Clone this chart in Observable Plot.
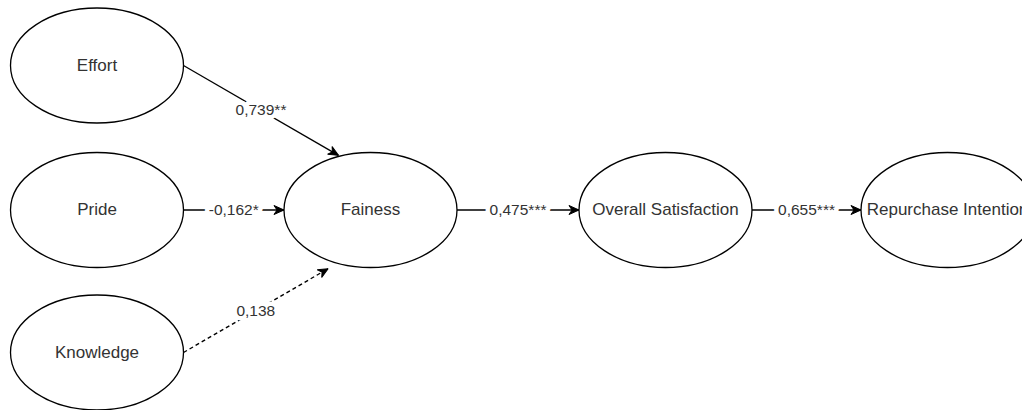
<!DOCTYPE html>
<html>
<head>
<meta charset="utf-8">
<script src="https://cdn.jsdelivr.net/npm/d3@7"></script>
<script src="https://cdn.jsdelivr.net/npm/@observablehq/plot@0.6"></script>
<style>
  html, body { margin: 0; padding: 0; background: #fff; overflow: hidden; }
</style>
</head>
<body>
<div id="chart"></div>
<script>
// ---- data (layout units of the diagram) ----
const nodeNames = ["Effort", "Pride", "Knowledge", "Fainess", "Overall Satisfaction", "Repurchase Intention"];
const nodeX = [96.5, 96.5, 96.5, 370, 665, 947];
const nodeY = [65, 209.5, 352, 209.5, 209.5, 209.5];

const edgeFrom = ["Effort", "Pride", "Knowledge", "Fainess", "Overall Satisfaction"];
const edgeTo = ["Fainess", "Fainess", "Fainess", "Overall Satisfaction", "Repurchase Intention"];
const edgeCoef = ["0,739**", "-0,162*", "0,138", "0,475***", "0,655***"];
const edgeSignificant = [true, true, false, true, true];
// where each path enters its target, relative to the target centre (in radii)
const edgePortX = [-0.37, -1, -0.49, -1, -1];
const edgePortY = [-0.95, 0, 1.02, 0, 0];

const RX = 86.5, RY = 57.5;

const nodes = nodeNames.map((name, i) => ({name, x: nodeX[i], y: nodeY[i]}));
const byName = new Map(nodes.map(n => [n.name, n]));
const edges = edgeFrom.map((f, i) => {
  const s = byName.get(f), t = byName.get(edgeTo[i]);
  const x1 = s.x + RX, y1 = s.y;
  const x2 = t.x + edgePortX[i] * RX, y2 = t.y + edgePortY[i] * RY;
  return {x1, y1, x2, y2, mx: (x1 + x2) / 2, my: (y1 + y2) / 2,
          label: edgeCoef[i], significant: edgeSignificant[i]};
});

// ellipse symbol for the latent variables
const ellipseSymbol = {
  draw(context, size) {
    const rx = Math.sqrt(size / Math.PI);
    const ry = rx * (RY / RX);
    const k = 0.5522847498;
    context.moveTo(rx, 0);
    context.bezierCurveTo(rx, ry * k, rx * k, ry, 0, ry);
    context.bezierCurveTo(-rx * k, ry, -rx, ry * k, -rx, 0);
    context.bezierCurveTo(-rx, -ry * k, -rx * k, -ry, 0, -ry);
    context.bezierCurveTo(rx * k, -ry, rx, -ry * k, rx, 0);
    context.closePath();
  }
};

// filled "classic" arrow head
function classicArrow() {
  const m = d3.create("svg:marker")
    .attr("viewBox", "-11 -6 12 12")
    .attr("refX", 0).attr("refY", 0)
    .attr("markerWidth", 12).attr("markerHeight", 12)
    .attr("markerUnits", "userSpaceOnUse")
    .attr("orient", "auto");
  m.append("path")
    .attr("d", "M0,0L-10,-4.5L-7,0L-10,4.5Z")
    .attr("fill", "black").attr("stroke", "black")
    .attr("stroke-width", 1).attr("stroke-dasharray", "none")
    .attr("stroke-linejoin", "miter");
  return m.node();
}

const font = "Liberation Sans, Arial, Helvetica, sans-serif";

const chart = Plot.plot({
  width: 1022,
  height: 410,
  margin: 0,
  style: {fontFamily: font, background: "white"},
  x: {domain: [0, 1022], range: [0, 1022], axis: null},
  y: {domain: [0, 410], range: [0, 410], axis: null},
  marks: [
    Plot.dot(nodes, {x: "x", y: "y", r: RX, symbol: ellipseSymbol,
      fill: "white", stroke: "black", strokeWidth: 1.3}),
    Plot.link(edges.filter(d => d.significant), {x1: "x1", y1: "y1", x2: "x2", y2: "y2",
      stroke: "black", strokeWidth: 1.3, markerEnd: classicArrow}),
    Plot.link(edges.filter(d => !d.significant), {x1: "x1", y1: "y1", x2: "x2", y2: "y2",
      stroke: "black", strokeWidth: 1.4, strokeDasharray: "4 3", markerEnd: classicArrow}),
    Plot.text(edges, {x: "mx", y: "my", text: "label", fontSize: 15.5, fontFamily: font,
      fill: "#333", stroke: "white", strokeWidth: 9, strokeLinejoin: "round"}),
    Plot.text(nodes, {x: "x", y: "y", text: "name", fontSize: 17, fontFamily: font, fill: "#333"})
  ]
});
document.getElementById("chart").append(chart);
</script>
</body>
</html>
